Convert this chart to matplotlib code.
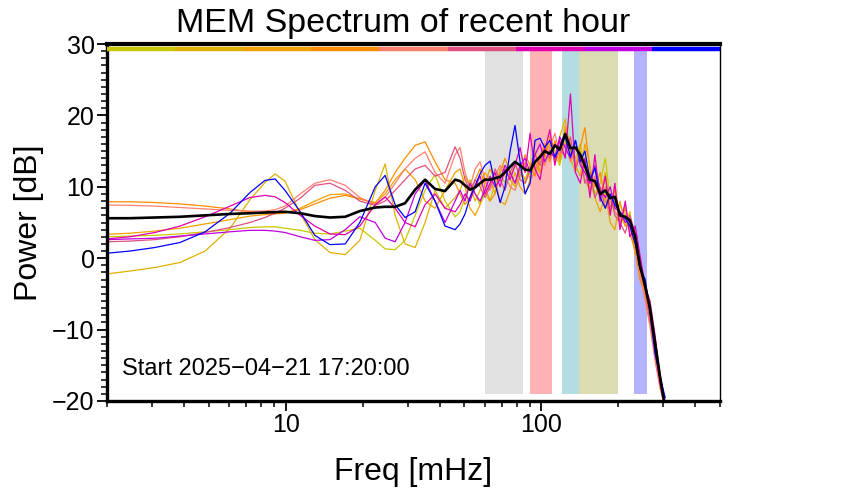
import numpy as np
import matplotlib
matplotlib.use("Agg")
import matplotlib.pyplot as plt
from matplotlib.ticker import LogLocator, MultipleLocator, NullFormatter, FixedLocator
import matplotlib.transforms as mtransforms

plt.rcParams["font.family"] = ["Liberation Sans", "DejaVu Sans"]

# Frequencies [mHz] shared by every spectrum
freq = [2.0, 2.46, 3.08, 3.86, 4.84, 6.06, 7.25, 8.3, 9.09, 9.94,
        11.4, 13.0, 14.9, 17.1, 19.5, 22.4,
        24.5, 26.8, 29.3, 32.1, 35.1, 38.4, 42.0, 46.0,
        48.1, 50.3, 52.6, 55.1, 57.6, 60.2, 63.0, 65.9, 69.0, 72.1,
        75.5, 78.9, 82.6, 86.4, 90.4, 94.5, 98.9, 103, 108, 113,
        118, 124, 130, 136, 142, 148, 155, 162, 170, 178,
        186, 194, 203, 213, 222, 233, 243, 255, 266, 279,
        291, 305]

# Power [dB] of the spectra, one per 10-minute chunk
yellowgreen = [3.0, 3.1, 3.2, 3.4, 3.7, 4.0, 4.3, 4.4, 4.4, 4.2,
               3.9, 3.5, 3.4, 3.8, 4.2, 2.5,
               1.3, 1.2, 2.5, 6.0, 9.5, 11.7, 8.0, 5.8,
               6.5, 8.5, 11.0, 9.0, 7.5, 9.0, 8.0, 10.5, 12.0, 10.5,
               11.5, 13.0, 12.0, 10.5, 12.0, 12.5, 14.0, 13.0, 15.0, 14.5,
               13.0, 16.5, 15.5, 14.0, 16.0, 12.5, 10.0, 9.0, 10.5, 14.0,
               8.0, 7.0, 7.5, 6.0, 4.5, 2.5, -2.5, -3.5, -6.5, -12.0,
               -17.0, -21.0]
gold = [-2.2, -1.8, -1.3, -0.6, 1.0, 4.2, 8.2, 10.6, 11.8, 10.8,
        6.3, 2.6, 0.8, 0.5, 2.5, 9.5,
        13.2, 6.0, 2.0, 1.5, 5.0, 9.5, 7.0, 8.5,
        9.5, 11.5, 10.0, 8.0, 9.5, 12.0, 11.0, 9.0, 12.5, 13.0,
        11.0, 10.0, 12.5, 11.0, 13.0, 15.0, 12.0, 14.5, 16.0, 13.5,
        17.0, 19.5, 14.0, 12.0, 15.0, 13.0, 9.5, 11.0, 8.5, 12.0,
        7.0, 9.5, 6.0, 4.5, 6.5, 1.0, -2.0, -4.5, -6.0, -11.5,
        -16.0, -20.5]
orange = [3.35, 3.5, 3.8, 4.2, 4.8, 5.4, 5.9, 6.1, 6.2, 6.3,
          7.0, 8.0, 8.9, 9.0, 8.3, 7.8,
          9.0, 11.0, 12.5, 11.0, 8.0, 7.0, 9.5, 12.0,
          12.5, 10.0, 7.0, 6.0, 7.5, 10.5, 12.5, 11.0, 8.0, 7.5,
          9.5, 12.0, 10.0, 9.0, 11.0, 13.5, 12.0, 14.0, 17.0, 15.0,
          13.5, 18.5, 16.0, 13.0, 11.5, 16.0, 13.0, 8.5, 6.5, 9.0,
          5.0, 4.0, 8.0, 4.5, 5.0, 0.5, -1.0, -5.5, -8.0, -14.0,
          -18.0, -21.0]
darkorange = [7.9, 7.9, 7.8, 7.6, 7.3, 6.9, 6.5, 6.3, 6.3, 6.4,
              6.8, 7.6, 8.4, 8.8, 8.3, 7.7,
              9.5, 12.0, 14.0, 15.8, 16.3, 13.5, 11.0, 10.5,
              9.0, 7.5, 8.5, 11.0, 12.5, 10.0, 8.0, 9.0, 12.0, 14.0,
              12.0, 10.5, 12.0, 14.5, 13.0, 11.5, 14.0, 16.0, 13.5, 16.5,
              14.0, 18.0, 15.0, 13.0, 15.5, 18.3, 12.5, 10.0, 12.0, 8.0,
              6.5, 10.0, 5.0, 7.0, 3.5, 1.0, -3.0, -5.0, -9.0, -13.0,
              -17.5, -20.5]
salmon = [7.45, 7.4, 7.3, 7.1, 6.9, 6.7, 6.6, 6.6, 6.8, 7.3,
          9.0, 10.5, 11.0, 10.2, 8.5, 7.5,
          8.5, 10.5, 12.5, 14.0, 14.9, 12.0, 10.5, 14.5,
          15.5, 12.0, 10.0, 12.5, 13.5, 11.0, 9.5, 11.5, 13.0, 11.5,
          10.0, 9.5, 11.5, 13.5, 11.0, 12.0, 14.5, 13.0, 15.5, 17.5,
          14.5, 16.0, 13.5, 15.5, 14.0, 11.0, 9.5, 11.5, 8.0, 10.0,
          8.5, 6.5, 5.5, 7.5, 4.0, 2.0, -2.0, -6.0, -9.5, -14.5,
          -18.0, -21.0]
pink = [2.3, 2.4, 2.6, 3.0, 3.6, 4.3, 5.0, 5.7, 6.3, 7.0,
        8.4, 10.2, 10.5, 9.5, 8.0, 7.4,
        8.0, 9.5, 11.0, 12.5, 13.0, 11.5, 12.0, 15.6,
        14.0, 11.0, 9.5, 11.0, 10.0, 8.5, 10.0, 12.5, 11.0, 9.5,
        12.0, 13.5, 11.0, 10.5, 12.5, 14.5, 13.0, 15.5, 14.0, 16.0,
        15.0, 14.5, 17.0, 12.5, 14.5, 10.5, 12.0, 8.5, 10.0, 7.0,
        9.0, 6.0, 5.0, 3.5, 6.0, 3.5, 0.0, -4.5, -8.5, -13.5,
        -17.0, -20.5]
magenta = [2.7, 3.0, 3.6, 4.5, 5.8, 7.3, 8.5, 8.8, 8.6, 7.8,
           6.0, 4.5, 3.4, 3.3, 4.5, 7.5,
           8.6, 7.0, 5.0, 4.4, 7.5, 9.0, 7.0, 6.5,
           7.5, 9.0, 8.0, 10.0, 11.5, 9.0, 10.5, 12.0, 10.0, 12.5,
           11.0, 13.0, 15.5, 12.0, 17.5, 12.5, 11.0, 15.0, 18.0, 13.0,
           16.5, 14.0, 23.0, 12.0, 10.5, 14.0, 8.5, 14.5, 8.0, 11.5,
           6.0, 10.5, 4.0, 8.0, 3.0, 4.5, 0.5, -4.0, -6.0, -11.0,
           -16.5, -20.0]
purple = [2.6, 2.7, 2.8, 3.1, 3.4, 3.7, 3.9, 3.9, 3.8, 3.6,
          3.0, 2.5, 2.6, 4.0, 5.8, 5.0,
          2.8, 2.3, 5.0, 9.0, 10.9, 8.0, 5.0, 8.0,
          9.5, 8.0, 10.5, 9.0, 8.0, 9.5, 11.5, 10.0, 11.0, 13.0,
          12.0, 10.5, 13.0, 14.0, 12.0, 14.5, 16.0, 13.5, 15.0, 14.0,
          17.0, 15.5, 14.0, 16.5, 13.0, 12.0, 10.5, 13.0, 9.5, 8.5,
          10.0, 7.0, 6.5, 5.0, 5.5, 3.0, -0.5, -3.5, -7.0, -12.5,
          -17.5, -21.0]
blue = [0.7, 1.0, 1.5, 2.2, 3.7, 6.3, 9.2, 10.9, 11.1, 9.5,
        6.5, 3.2, 1.9, 2.0, 5.0, 10.0,
        11.6, 7.5, 5.7, 6.5, 10.5, 8.0, 4.5, 4.0,
        4.8, 6.2, 8.5, 10.2, 11.8, 13.0, 13.6, 10.5, 7.8, 10.0,
        15.0, 18.6, 13.5, 9.0, 10.5, 16.5, 16.8, 15.5, 16.5, 14.2,
        15.5, 17.0, 14.2, 16.5, 13.5, 15.0, 11.0, 12.6, 8.5, 7.0,
        9.0, 7.5, 6.5, 5.5, 4.5, 2.0, -1.5, -3.0, -7.5, -13.5,
        -16.5, -19.5]

# Mean spectrum of the hour
mean_power = [5.6, 5.6, 5.7, 5.8, 6.0, 6.2, 6.3, 6.4, 6.45, 6.5,
              6.3, 5.9, 5.7, 5.8, 6.6, 7.1,
              7.2, 7.2, 7.7, 9.6, 11.0, 9.7, 9.4, 11.0,
              10.8, 10.2, 9.6, 9.9, 10.5, 11.0, 11.0, 11.2, 11.4, 12.0,
              12.8, 13.5, 13.0, 12.4, 12.3, 13.5, 14.2, 15.0, 14.6, 15.8,
              15.2, 17.4, 15.4, 15.5, 14.5, 13.0, 11.0, 10.8, 9.0, 9.5,
              8.4, 8.6, 6.0, 5.8, 5.3, 3.0, -1.0, -4.0, -7.0, -12.0,
              -16.5, -21.0]

spectra = [yellowgreen, gold, orange, darkorange, salmon, pink, magenta, purple, blue]
line_colors = ["#c8c800", "#e0b000", "#f0a000", "#ff8c00", "#ff7f6e",
               "#e0507e", "#e000b0", "#c000e0", "#0000ff"]

# Frequency bands [mHz]
band_lo = [60, 90, 120, 141, 230]
band_hi = [85, 110, 140, 200, 260]
band_colors = ["#e1e1e1", "#ffb3b3", "#b3dde0", "#dcdcb4", "#b3b3ff"]

fig = plt.figure(figsize=(8.42, 5.0), dpi=100)
ax = fig.add_axes([107 / 842, 99 / 500, 613 / 842, 357 / 500])

for lo, hi, c in zip(band_lo, band_hi, band_colors):
    ax.fill_between([lo, hi], -19, 29, color=c, lw=0, zorder=1)

for vals, c in zip(spectra, line_colors):
    ax.plot(freq, vals, color=c, lw=0.9, zorder=2)

ax.plot(freq, mean_power, color="black", lw=1.9, zorder=3)

# time colour bar along the top
trans = mtransforms.blended_transform_factory(ax.transAxes, ax.transData)
n = len(line_colors)
for i, c in enumerate(line_colors):
    ax.plot([i / n, (i + 1) / n], [29.35, 29.35], color=c, lw=3.2,
            solid_capstyle="butt", transform=trans, zorder=4, clip_on=False)

ax.set_xscale("log")
ax.set_xlim(2, 500)
ax.set_ylim(-20, 30)

ax.xaxis.set_major_locator(FixedLocator([10, 100]))
ax.xaxis.set_major_formatter(plt.FixedFormatter(["10", "100"]))
ax.xaxis.set_minor_locator(LogLocator(base=10, subs=np.arange(2, 10)))
ax.xaxis.set_minor_formatter(NullFormatter())
ax.yaxis.set_major_locator(MultipleLocator(10))
ax.yaxis.set_minor_locator(MultipleLocator(1))

ax.tick_params(which="major", direction="out", length=7, width=1.3, labelsize=18, pad=2)
ax.tick_params(which="minor", direction="out", length=4.5, width=1.1)
ax.tick_params(top=False, right=False)

for side in ["left", "bottom"]:
    ax.spines[side].set_linewidth(2.4)
ax.spines["top"].set_linewidth(3.0)
ax.spines["right"].set_linewidth(1.0)

ax.set_title("MEM Spectrum of recent hour", fontsize=24.5, pad=9, x=0.483)
ax.set_xlabel("Freq [mHz]", fontsize=23, labelpad=14)
ax.set_ylabel("Power [dB]", fontsize=23, labelpad=6)

ax.text(0.025, 0.06, "Start 2025\u221204\u221221 17:20:00", transform=ax.transAxes,
        fontsize=17, ha="left", va="bottom")

fig.savefig("out.png", dpi=100)
